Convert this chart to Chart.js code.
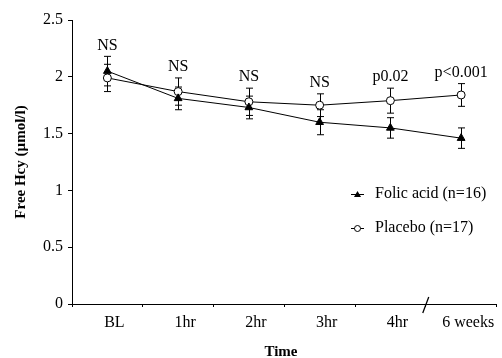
<!DOCTYPE html>
<html>
<head>
<meta charset="utf-8">
<script src="https://cdn.jsdelivr.net/npm/chart.js@4/dist/chart.umd.min.js"></script>
<style>
  body { margin: 0; background: #fff; }
  #wrap { width: 502px; height: 358px; }
</style>
</head>
<body>
<div id="wrap"><canvas id="grafik" width="502" height="358"></canvas></div>
<script>
// data
const timeLabels = ["BL", "1hr", "2hr", "3hr", "4hr", "6 weeks"];
const folicValues = [2.05, 1.81, 1.73, 1.60, 1.55, 1.46];
const folicErrors = [0.13, 0.10, 0.10, 0.11, 0.09, 0.09];
const placeboValues = [1.99, 1.87, 1.78, 1.75, 1.79, 1.84];
const placeboErrors = [0.12, 0.12, 0.12, 0.10, 0.11, 0.10];
const pLabels = ["NS", "NS", "NS", "NS", "p0.02", "p<0.001"];
const yTicks = [0, 0.5, 1, 1.5, 2, 2.5];

const serif = "'Liberation Serif', 'DejaVu Serif', serif";

// error bars, significance labels, legend, axis titles, axis break
const extras = {
  id: "extras",
  beforeDatasetsDraw(chart) {
    const ctx = chart.ctx;
    const x = chart.scales.x, y = chart.scales.y;
    const sets = [[folicValues, folicErrors], [placeboValues, placeboErrors]];
    ctx.save();
    ctx.strokeStyle = "#000";
    ctx.lineWidth = 1;
    sets.forEach(([vals, errs]) => {
      vals.forEach((v, i) => {
        const px = Math.round(x.getPixelForValue(i)) + 0.5;
        const top = y.getPixelForValue(v + errs[i]);
        const bot = y.getPixelForValue(v - errs[i]);
        ctx.beginPath();
        ctx.moveTo(px, top); ctx.lineTo(px, bot);
        ctx.moveTo(px - 3.5, top); ctx.lineTo(px + 3.5, top);
        ctx.moveTo(px - 3.5, bot); ctx.lineTo(px + 3.5, bot);
        ctx.stroke();
      });
    });
    ctx.restore();
  },
  afterDraw(chart) {
    const ctx = chart.ctx;
    const x = chart.scales.x, y = chart.scales.y;
    const area = chart.chartArea;
    ctx.save();
    ctx.fillStyle = "#000";
    ctx.strokeStyle = "#000";

    // p-value labels above the highest error bar
    ctx.font = "16px " + serif;
    ctx.textAlign = "center";
    ctx.textBaseline = "bottom";
    pLabels.forEach((t, i) => {
      const hi = Math.max(folicValues[i] + folicErrors[i], placeboValues[i] + placeboErrors[i]);
      ctx.fillText(t, x.getPixelForValue(i), y.getPixelForValue(hi) - 3);
    });

    // legend
    ctx.textAlign = "left";
    ctx.textBaseline = "middle";
    ctx.lineWidth = 1;
    const items = [
      { label: "Folic acid (n=16)", y: 194, tri: true },
      { label: "Placebo (n=17)", y: 228, tri: false }
    ];
    items.forEach(it => {
      ctx.beginPath();
      ctx.moveTo(351, it.y + 0.5); ctx.lineTo(364, it.y + 0.5);
      ctx.stroke();
      ctx.beginPath();
      if (it.tri) {
        ctx.moveTo(357.5, it.y - 3); ctx.lineTo(361, it.y + 3); ctx.lineTo(354, it.y + 3);
        ctx.closePath();
        ctx.fill();
      } else {
        ctx.arc(357.5, it.y + 0.5, 3, 0, Math.PI * 2);
        ctx.fillStyle = "#fff";
        ctx.fill();
        ctx.stroke();
        ctx.fillStyle = "#000";
      }
      ctx.fillText(it.label, 375, it.y);
    });

    // axis titles
    ctx.font = "bold 15px " + serif;
    ctx.textAlign = "center";
    ctx.textBaseline = "alphabetic";
    ctx.fillText("Time", 281, 356);
    ctx.save();
    ctx.translate(25, (area.top + area.bottom) / 2);
    ctx.rotate(-Math.PI / 2);
    ctx.fillText("Free Hcy (\u00b5mol/l)", 0, 0);
    ctx.restore();

    // axis break between 4hr and 6 weeks
    const bx = (x.getPixelForValue(4) + x.getPixelForValue(5)) / 2;
    ctx.beginPath();
    ctx.lineWidth = 1.3;
    ctx.moveTo(bx - 3, area.bottom + 9);
    ctx.lineTo(bx + 3, area.bottom - 7);
    ctx.stroke();
    ctx.restore();
  }
};

const ctx = document.getElementById("grafik").getContext("2d");
new Chart(ctx, {
  type: "line",
  data: {
    labels: timeLabels,
    datasets: [
      {
        label: "Folic acid (n=16)",
        data: folicValues,
        borderColor: "#000",
        backgroundColor: "#000",
        borderWidth: 1,
        pointStyle: "triangle",
        pointRadius: 4.5,
        pointBorderWidth: 1,
        tension: 0
      },
      {
        label: "Placebo (n=17)",
        data: placeboValues,
        borderColor: "#000",
        backgroundColor: "#fff",
        borderWidth: 1,
        pointStyle: "circle",
        pointRadius: 4,
        pointBorderWidth: 1,
        tension: 0
      }
    ]
  },
  options: {
    responsive: false,
    animation: false,
    layout: { padding: { top: 20, right: 2, left: 0, bottom: 0 } },
    plugins: {
      legend: { display: false },
      tooltip: { enabled: false }
    },
    scales: {
      x: {
        type: "category",
        offset: true,
        afterFit: s => { s.height = 54; },
        border: { color: "#000", width: 1 },
        grid: { display: true, offset: true, drawOnChartArea: false, tickLength: 3, color: "#000" },
        ticks: { color: "#000", font: { family: serif, size: 16 }, padding: 6, labelOffset: 7, maxRotation: 0 }
      },
      y: {
        min: 0,
        max: 2.5,
        afterFit: s => { s.width = 72; },
        afterBuildTicks: s => { s.ticks = yTicks.map(v => ({ value: v })); },
        border: { color: "#000", width: 1 },
        grid: { display: true, drawOnChartArea: false, tickLength: 4, color: "#000" },
        ticks: { color: "#000", font: { family: serif, size: 16 }, padding: 5, callback: v => String(v) }
      }
    }
  },
  plugins: [extras]
});
</script>
</body>
</html>
